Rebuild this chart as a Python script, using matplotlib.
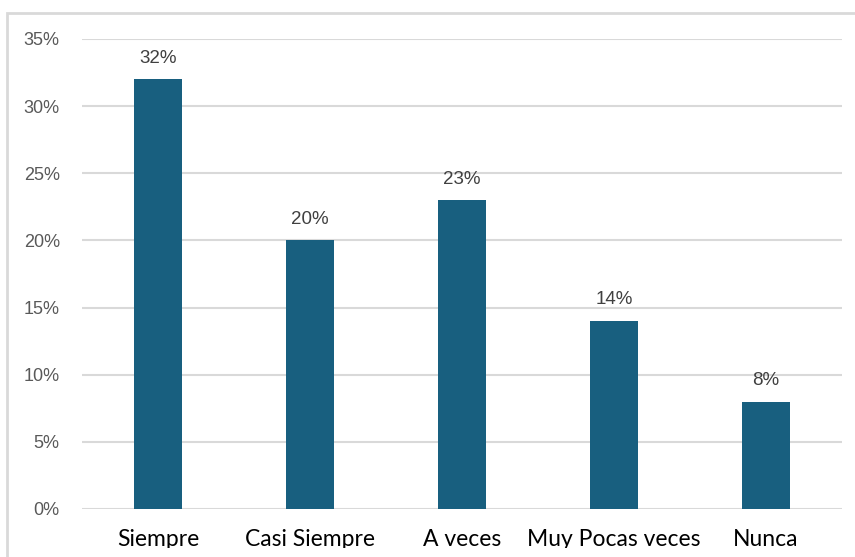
import matplotlib.pyplot as plt
from matplotlib.patches import Rectangle
from matplotlib.ticker import FuncFormatter

categories = ["Siempre", "Casi Siempre", "A veces", "Muy Pocas veces", "Nunca"]
values = [0.32, 0.20, 0.23, 0.14, 0.08]
labels = ["32%", "20%", "23%", "14%", "8%"]

fig = plt.figure(figsize=(8.55, 5.57), dpi=100)
ax = fig.add_axes([0.0959, 0.0862, 0.889, 0.8438])

x = range(len(categories))
bars = ax.bar(x, values, width=0.316, color="#185f7f", zorder=3)

for b, lab in zip(bars, labels):
    ax.annotate(lab, (b.get_x() + b.get_width() / 2, b.get_height()),
                xytext=(0, 9), textcoords="offset points", ha="center", va="bottom",
                fontsize=13.5, color="#404040", family="Liberation Sans")

ax.set_xlim(-0.5, len(categories) - 0.5)
ax.set_ylim(0, 0.35)
ax.set_yticks([i * 0.05 for i in range(8)])
ax.yaxis.set_major_formatter(FuncFormatter(lambda v, p: f"{v*100:.0f}%"))
ax.grid(axis="y", color="#d9d9d9", linewidth=1.5, zorder=0)
for s in ax.spines.values():
    s.set_visible(False)
ax.tick_params(axis="y", length=0, pad=16, labelsize=13, labelcolor="#595959")
for t in ax.get_yticklabels():
    t.set_family("Liberation Sans")
ax.tick_params(axis="x", length=0, pad=14.5, labelsize=16.5, labelcolor="black")
ax.set_xticks(list(x))
ax.set_xticklabels(categories, family="Lato")

# chart border (runs off the right and bottom edges)
fig.patches.append(Rectangle((7 / 855, -0.1), 1.2, 1 - 13 / 557 + 0.1,
                             transform=fig.transFigure, fill=False,
                             edgecolor="#d9d9d9", linewidth=2))
# bottom strip where the category labels are cut off
fig.add_artist(Rectangle((9 / 855, 0), 1, 9 / 557, transform=fig.transFigure,
                         facecolor="white", edgecolor="none", zorder=10))

fig.savefig("out.png", dpi=100)
